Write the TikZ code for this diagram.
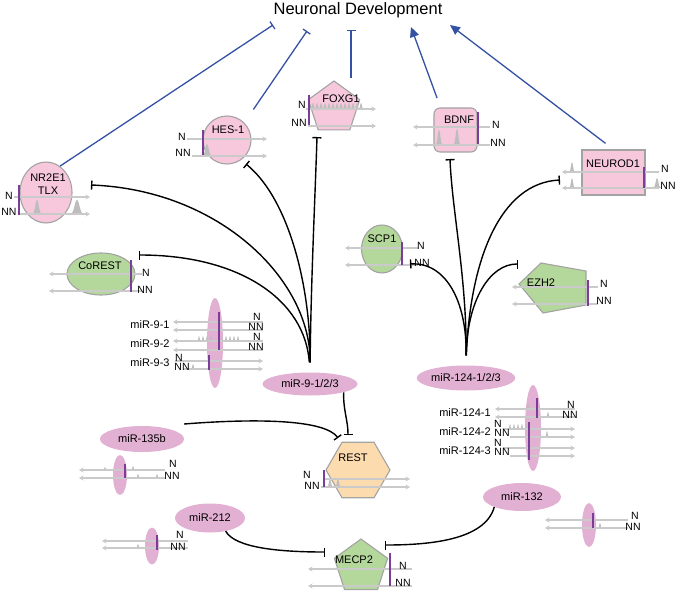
\documentclass[tikz,border=0pt]{standalone}
\usepackage{fontspec}
\setmainfont{Liberation Sans}
\usetikzlibrary{shapes.geometric,arrows.meta}

\definecolor{protpink}{HTML}{F7C8DC}
\definecolor{protgreen}{HTML}{B4D79B}
\definecolor{protorange}{HTML}{FCDBAF}
\definecolor{protborder}{HTML}{A3A3A3}
\definecolor{mirpink}{HTML}{E2B0D2}
\definecolor{tsspurple}{HTML}{7A3E98}
\definecolor{trackgray}{HTML}{CACACA}
\definecolor{peakgray}{HTML}{BDBDBD}
\definecolor{devblue}{HTML}{3452A3}

\tikzset{
  protein/.style={draw=protborder, line width=1.1pt, inner sep=0pt},
  pinkprot/.style={protein, fill=protpink},
  greenprot/.style={protein, fill=protgreen},
  restprot/.style={protein, fill=protorange},
  mirna/.style={ellipse, fill=mirpink, inner sep=0pt, font=\fontsize{11}{13}\selectfont},
  locus/.style={ellipse, fill=mirpink, inner sep=0pt},
  lbl/.style={font=\fontsize{11}{13}\selectfont, inner sep=0pt},
  rdlbl/.style={font=\fontsize{10.5}{11}\selectfont, inner sep=0pt},
  track/.style={draw=trackgray, line width=1.3pt, -{Stealth[length=4.5pt,width=5pt]}},
  tssbar/.style={draw=tsspurple, line width=1.5pt},
  inhib/.style={draw=black, line width=1.4pt, -{Bar[width=9pt]}},
  devinhib/.style={draw=devblue, line width=1.3pt, -{Bar[width=9pt]}},
  devact/.style={draw=devblue, line width=1.3pt, -{Triangle[length=10pt,width=9pt]}}
}

% one ChIP peak: x, baseline y, height, half width
\newcommand{\chippeak}[4]{%
  \fill[peakgray] ({#1-#4},#2) .. controls ({#1-0.35*#4},#2) and ({#1-0.35*#4},{#2-#3}) .. (#1,{#2-#3})
    .. controls ({#1+0.35*#4},{#2-#3}) and ({#1+0.35*#4},#2) .. ({#1+#4},#2) -- cycle;}

\begin{document}
\begin{tikzpicture}[x=1pt,y=-1pt]
  \useasboundingbox (0,0) rectangle (679,591);

  % title
  \node[font=\fontsize{16.5}{19}\selectfont, inner sep=0pt, anchor=base] (devel) at (358,15) {Neuronal Development};
  \coordinate (dev-a) at (273,25);
  \coordinate (dev-b) at (307,31);
  \coordinate (dev-c) at (351,30);
  \coordinate (dev-d) at (411,27);
  \coordinate (dev-e) at (450,25);

  % NR2E1
  \node[pinkprot, ellipse, minimum width=52pt, minimum height=61pt] (nr2e1) at (46,192.5) {};
  \node[lbl, align=center] (nr2e1-txt) at (48,184) {NR2E1\\TLX};
  \chippeak{37}{214}{14}{5}
  \chippeak{77}{214}{14}{7}
  \draw[track] (14,197) -- (90,197);
  \draw[track] (18,214) -- (90,214);
  \draw[tssbar] (19,185) -- (19,215);
  \node[rdlbl] (nr2e1-n) at (9,196) {N};
  \node[rdlbl] (nr2e1-nn) at (9,212) {NN};

  % HES-1
  \node[pinkprot, circle, minimum size=48pt] (hes1) at (227,140) {};
  \node[lbl] (hes1-txt) at (228,130) {HES-1};
  \chippeak{207}{156}{12}{5}
  \draw[track] (187,139) -- (267,139);
  \draw[track] (192,156) -- (267,156);
  \draw[tssbar] (203,130) -- (203,155);
  \node[rdlbl] (hes1-n) at (182,137) {N};
  \node[rdlbl] (hes1-nn) at (183,153) {NN};

  % FOXG1
  \node[pinkprot, regular polygon, regular polygon sides=5, minimum size=54pt] (foxg1) at (334,108) {};
  \node[lbl] (foxg1-txt) at (341,99) {FOXG1};
  \foreach \px in {313,317,...,361} {\chippeak{\px}{109}{6}{2.5}}
  \draw[track] (306,109) -- (376,109);
  \draw[track] (308,126) -- (376,126);
  \draw[tssbar] (309,95) -- (309,125);
  \node[rdlbl] (foxg1-n) at (302,105) {N};
  \node[rdlbl] (foxg1-nn) at (299,123) {NN};

  % BDNF
  \node[pinkprot, rectangle, rounded corners=6pt, minimum width=43pt, minimum height=44pt] (bdnf) at (455.5,130) {};
  \node[lbl] (bdnf-txt) at (459,120) {BDNF};
  \chippeak{439}{145}{15}{4}
  \chippeak{457}{145}{16}{4}
  \draw[track] (490,127) -- (413,127);
  \draw[track] (490,145) -- (413,145);
  \draw[tssbar] (478,112) -- (478,144);
  \node[rdlbl] (bdnf-n) at (496,125) {N};
  \node[rdlbl] (bdnf-nn) at (498,143) {NN};

  % NEUROD1
  \node[pinkprot, rectangle, minimum width=63pt, minimum height=45pt] (neurod1) at (613.5,172.5) {};
  \node[lbl] (neurod1-txt) at (613,164) {NEUROD1};
  \chippeak{572}{172}{10}{3}
  \chippeak{572}{188}{10}{3}
  \chippeak{657}{188}{10}{4}
  \draw[track] (659,172) -- (562,172);
  \draw[track] (659,188) -- (562,188);
  \draw[tssbar] (644,167) -- (644,188);
  \node[rdlbl] (neurod1-n) at (665,169) {N};
  \node[rdlbl] (neurod1-nn) at (668,186) {NN};

  % SCP1
  \node[greenprot, ellipse, minimum width=41pt, minimum height=48pt] (scp1) at (382,249) {};
  \node[lbl] (scp1-txt) at (382,239) {SCP1};
  \draw[track] (418,248) -- (345,248);
  \draw[track] (418,265) -- (345,265);
  \draw[tssbar] (402,242) -- (402,265);
  \node[rdlbl] (scp1-n) at (421,246) {N};
  \node[rdlbl] (scp1-nn) at (422,263) {NN};

  % EZH2
  \draw[greenprot] (519,284) -- (541,263) -- (586,271) -- (586,305) -- (543,313) -- cycle;
  \node[lbl] (ezh2-txt) at (541,283) {EZH2};
  \draw[track] (598,287) -- (512,287);
  \draw[track] (598,304) -- (512,304);
  \draw[tssbar] (588,280) -- (588,306);
  \node[rdlbl] (ezh2-n) at (604,284) {N};
  \node[rdlbl] (ezh2-nn) at (604,301) {NN};

  % CoREST
  \node[greenprot, ellipse, minimum width=68pt, minimum height=42pt] (corest) at (101,274) {};
  \node[lbl] (corest-txt) at (100,266) {CoREST};
  \draw[track] (142,274) -- (49,274);
  \draw[track] (142,291) -- (49,291);
  \draw[tssbar] (131,260) -- (131,292);
  \node[rdlbl] (corest-n) at (146,273) {N};
  \node[rdlbl] (corest-nn) at (145,290) {NN};

  % miR-9 loci
  \node[locus, minimum width=16pt, minimum height=90pt] (mir9-locus) at (215,343) {};
  \foreach \px in {199,203,207,211,222,226,230,234,238} {\chippeak{\px}{341}{5}{1.8}}
  \chippeak{193}{369}{5}{2}
  \draw[track] (263,322) -- (173,322);
  \draw[track] (263,330) -- (173,330);
  \draw[track] (263,341) -- (173,341);
  \draw[track] (263,350) -- (173,350);
  \draw[track] (175,361) -- (263,361);
  \draw[track] (183,369) -- (263,369);
  \draw[tssbar] (219,312) -- (219,350);
  \draw[tssbar] (209,355) -- (209,370);
  \node[lbl] (mir91-txt) at (150,325) {miR-9-1};
  \node[lbl] (mir92-txt) at (150,344) {miR-9-2};
  \node[lbl] (mir93-txt) at (150,363) {miR-9-3};
  \node[rdlbl] (mir91-n) at (257,317) {N};
  \node[rdlbl] (mir91-nn) at (256,327) {NN};
  \node[rdlbl] (mir92-n) at (257,337) {N};
  \node[rdlbl] (mir92-nn) at (256,347) {NN};
  \node[rdlbl] (mir93-n) at (179,358) {N};
  \node[rdlbl] (mir93-nn) at (182,367) {NN};

  \node[mirna, minimum width=95pt, minimum height=23pt] (mir9) at (310,384) {miR-9-1/2/3};

  % miR-124 loci
  \node[locus, minimum width=16pt, minimum height=86pt] (mir124-locus) at (533,428) {};
  \chippeak{528}{409}{6}{2}
  \chippeak{548}{417}{5}{2}
  \foreach \px in {510,514,518,522,526} {\chippeak{\px}{429}{5}{1.8}}
  \chippeak{547}{437}{6}{2}
  \draw[track] (575,409) -- (495,409);
  \draw[track] (575,417) -- (495,417);
  \draw[track] (503,429) -- (575,429);
  \draw[track] (510,437) -- (575,437);
  \draw[track] (503,448) -- (575,448);
  \draw[track] (510,456) -- (575,456);
  \draw[tssbar] (537,398) -- (537,418);
  \draw[tssbar] (529,422) -- (529,460);
  \node[lbl] (mir1241-txt) at (465,413) {miR-124-1};
  \node[lbl] (mir1242-txt) at (465,432) {miR-124-2};
  \node[lbl] (mir1243-txt) at (465,451) {miR-124-3};
  \node[rdlbl] (mir1241-n) at (571,405) {N};
  \node[rdlbl] (mir1241-nn) at (570,415) {NN};
  \node[rdlbl] (mir1242-n) at (498,424) {N};
  \node[rdlbl] (mir1242-nn) at (502,433) {NN};
  \node[rdlbl] (mir1243-n) at (498,443) {N};
  \node[rdlbl] (mir1243-nn) at (502,452) {NN};

  \node[mirna, minimum width=88pt, minimum height=25pt] (mir124) at (466,378) {miR-124-1/2/3};

  % miR-135b
  \node[mirna, minimum width=84pt, minimum height=26pt] (mir135b) at (142,439) {miR-135b};
  \node[locus, minimum width=14pt, minimum height=40pt] (mir135b-locus) at (120,475) {};
  \chippeak{105}{470}{3}{2}
  \chippeak{133}{470}{4}{2}
  \chippeak{138}{478}{4}{2}
  \chippeak{157}{478}{4}{2}
  \draw[track] (165,470) -- (79,470);
  \draw[track] (165,478) -- (79,478);
  \draw[tssbar] (125,464) -- (125,478);
  \node[rdlbl] (mir135b-n) at (173,464) {N};
  \node[rdlbl] (mir135b-nn) at (172,476) {NN};

  % REST
  \node[restprot, regular polygon, regular polygon sides=6, minimum size=64pt] (rest) at (358,470) {};
  \node[lbl] (rest-txt) at (353,458) {REST};
  \chippeak{330}{487}{8}{3}
  \chippeak{338}{487}{8}{3}
  \draw[track] (325,479) -- (410,479);
  \draw[track] (321,487) -- (410,487);
  \draw[tssbar] (324,470) -- (324,487);
  \node[rdlbl] (rest-n) at (307,475) {N};
  \node[rdlbl] (rest-nn) at (312,486) {NN};

  % miR-212
  \node[mirna, minimum width=70pt, minimum height=29pt] (mir212) at (210,518) {miR-212};
  \node[locus, minimum width=14pt, minimum height=37pt] (mir212-locus) at (152,546) {};
  \chippeak{138}{548}{4}{2}
  \draw[track] (188,541) -- (102,541);
  \draw[track] (188,548) -- (102,548);
  \draw[tssbar] (157,535) -- (157,550);
  \node[rdlbl] (mir212-n) at (180,535) {N};
  \node[rdlbl] (mir212-nn) at (178,547) {NN};

  % MECP2
  \node[greenprot, regular polygon, regular polygon sides=5, minimum size=56pt] (mecp2) at (361,567) {};
  \node[lbl] (mecp2-txt) at (354,560) {MECP2};
  \draw[track] (412,569) -- (308,569);
  \draw[track] (412,586) -- (308,586);
  \draw[tssbar] (390,553) -- (390,586);
  \node[rdlbl] (mecp2-n) at (403,566) {N};
  \node[rdlbl] (mecp2-nn) at (403,583) {NN};

  % miR-132
  \node[mirna, minimum width=78pt, minimum height=28pt] (mir132) at (522,497) {miR-132};
  \node[locus, minimum width=14pt, minimum height=44pt] (mir132-locus) at (589,525) {};
  \chippeak{600}{528}{5}{2}
  \draw[track] (628,520) -- (545,520);
  \draw[track] (628,528) -- (545,528);
  \draw[tssbar] (593,513) -- (593,528);
  \node[rdlbl] (mir132-n) at (635,516) {N};
  \node[rdlbl] (mir132-nn) at (633,527) {NN};

  % ends of the black connectors
  \coordinate (t-nr2e1) at (91,185);
  \coordinate (t-hes1) at (246,164);
  \coordinate (t-foxg1) at (317,137);
  \coordinate (t-corest) at (139,255);
  \coordinate (t-bdnf) at (450,159);
  \coordinate (t-neurod1) at (560,180);
  \coordinate (t-scp1) at (410,264);
  \coordinate (t-ezh2) at (518,264);
  \coordinate (t-rest9) at (348,435);
  \coordinate (t-rest135) at (338,438);
  \coordinate (t-mecp2a) at (325,552);
  \coordinate (t-mecp2b) at (385,545);

  % miR-9 fan
  \draw[inhib, shorten <=10pt] (mir9.north) .. controls (311,280) and (220,190) .. (t-nr2e1);
  \draw[inhib, shorten <=10pt] (mir9.north) .. controls (311,290) and (290,200) .. (t-hes1);
  \draw[inhib, shorten <=10pt] (mir9.north) .. controls (311,280) and (315,200) .. (t-foxg1);
  \draw[inhib, shorten <=10pt] (mir9.north) .. controls (305,300) and (240,255) .. (t-corest);
  \draw[inhib] (mir9.south east) .. controls (343,410) and (348,420) .. (t-rest9);

  % miR-124 fan
  \draw[inhib, shorten <=10pt] (mir124.north) .. controls (467,280) and (452,210) .. (t-bdnf);
  \draw[inhib, shorten <=10pt] (mir124.north) .. controls (470,260) and (500,183) .. (t-neurod1);
  \draw[inhib, shorten <=10pt] (mir124.north) .. controls (467,300) and (445,262) .. (t-scp1);
  \draw[inhib, shorten <=10pt] (mir124.north) .. controls (467,300) and (490,264) .. (t-ezh2);

  % other miRNAs
  \draw[inhib] ([yshift=15pt]mir135b.east) .. controls (260,418) and (325,420) .. (t-rest135);
  \draw[inhib] (mir212.-40) .. controls (235,548) and (280,552) .. (t-mecp2a);
  \draw[inhib] (mir132.south west) .. controls (485,540) and (430,545) .. (t-mecp2b);

  % to neuronal development
  \draw[devinhib] (nr2e1.62) -- (dev-a);
  \draw[devinhib, shorten <=16pt] (hes1.north east) -- (dev-b);
  \draw[devinhib] ([shift={(17pt,30pt)}]foxg1.center) -- (dev-c);
  \draw[devact, shorten <=10pt] ([xshift=-15pt]bdnf.north) -- (dev-d);
  \draw[devact, shorten <=10pt] (neurod1.north) -- (dev-e);
\end{tikzpicture}
\end{document}
